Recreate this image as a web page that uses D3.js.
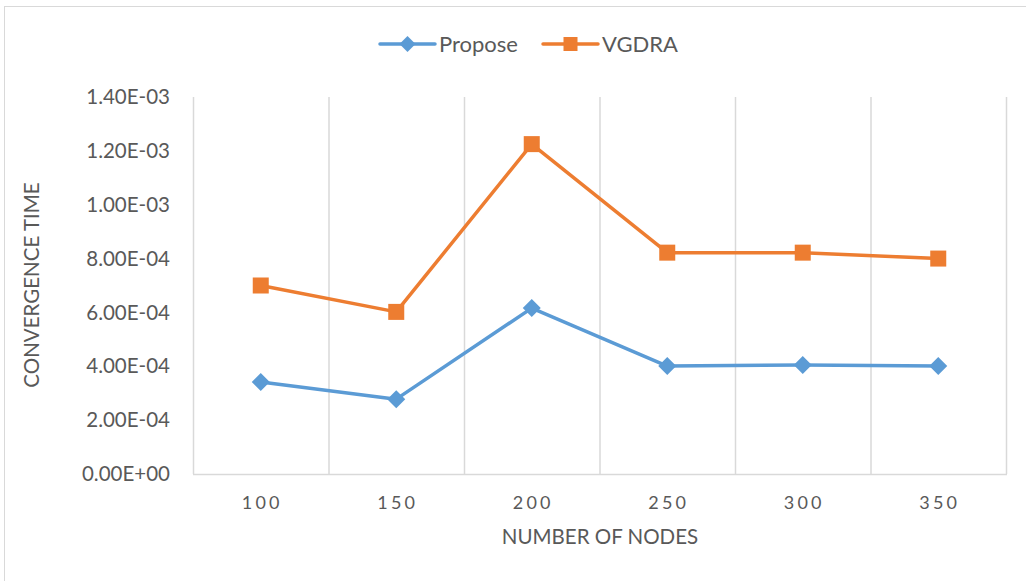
<!DOCTYPE html>
<html><head><meta charset="utf-8">
<script src="https://cdn.jsdelivr.net/npm/d3@7"></script>
<style>body{margin:0;background:#fff}svg{display:block}text{font-family:Lato,"Open Sans",sans-serif;fill:#595959}</style>
</head><body><svg id="c" width="1026" height="581"></svg>
<script>
const categories = ["100","150","200","250","300","350"];
const propose = [3.42e-4, 2.78e-4, 6.16e-4, 4.01e-4, 4.05e-4, 4.01e-4];
const vgdra = [7.0e-4, 6.02e-4, 1.225e-3, 8.22e-4, 8.22e-4, 8.0e-4];
const yTicks = [0, 2e-4, 4e-4, 6e-4, 8e-4, 1e-3, 1.2e-3, 1.4e-3];
const seriesNames = ["Propose","VGDRA"];
const colors = ["#5B9BD5","#ED7D31"];

const svg = d3.select("#c");
const L=193,R=1006,T=97,B=474;
svg.append("rect").attr("x",4.5).attr("y",6.5).attr("width",1030).attr("height",590).attr("fill","none").attr("stroke","#d9d9d9");
const x = d3.scaleBand().domain(categories).range([L,R]);
const y = d3.scaleLinear().domain([0,1.4e-3]).range([B,T]);
const bounds = categories.map(c=>x(c)).concat([R]);
svg.selectAll(".vg").data(bounds).enter().append("line")
 .attr("x1",d=>d+0.5).attr("x2",d=>d+0.5).attr("y1",T).attr("y2",B)
 .attr("stroke","#d9d9d9").attr("stroke-width",1.5);
svg.append("line").attr("x1",L).attr("x2",R+1).attr("y1",B+0.5).attr("y2",B+0.5).attr("stroke","#d9d9d9").attr("stroke-width",1.5);
const fmt = v => { if(v===0) return "0.00E+00"; const e=Math.floor(Math.log10(v)+1e-9); const m=v/Math.pow(10,e); return m.toFixed(2)+"E-"+String(-e).padStart(2,"0"); };
svg.selectAll(".yl").data(yTicks).enter().append("text")
 .attr("x",170).attr("y",d=>y(d)).attr("dy","0.35em").attr("text-anchor","end")
 .attr("font-size",20.5).text(fmt);
svg.selectAll(".xl").data(categories).enter().append("text")
 .attr("x",d=>x(d)+x.bandwidth()/2+1.5).attr("y",509).attr("text-anchor","middle")
 .attr("font-size",18).attr("letter-spacing","3.2px").text(d=>d);
svg.append("text").attr("x",600).attr("y",544).attr("text-anchor","middle").attr("font-size",20.5).text("NUMBER OF NODES");
svg.append("text").attr("transform","translate(39,285) rotate(-90)").attr("text-anchor","middle").attr("font-size",20.5).text("CONVERGENCE TIME");

const line = d3.line().x((d,i)=>x(categories[i])+x.bandwidth()/2).y(d=>y(d));
const data=[propose,vgdra];
data.forEach((s,k)=>{
  svg.append("path").attr("d",line(s)).attr("fill","none").attr("stroke",colors[k]).attr("stroke-width",3.5).attr("stroke-linejoin","round");
});
const diamond = (cx,cy,r)=>`M${cx},${cy-r}L${cx+r},${cy}L${cx},${cy+r}L${cx-r},${cy}Z`;
svg.selectAll(".pm").data(propose).enter().append("path")
 .attr("d",(d,i)=>diamond(x(categories[i])+x.bandwidth()/2,y(d),9)).attr("fill",colors[0]);
svg.selectAll(".vm").data(vgdra).enter().append("rect")
 .attr("x",(d,i)=>x(categories[i])+x.bandwidth()/2-8).attr("y",d=>y(d)-8).attr("width",16).attr("height",16).attr("fill",colors[1]);
const leg=[{x0:380,name:seriesNames[0],c:colors[0],m:"d"},{x0:543,name:seriesNames[1],c:colors[1],m:"s"}];
leg.forEach(l=>{
  const ly=44;
  svg.append("line").attr("x1",l.x0).attr("x2",l.x0+55).attr("y1",ly).attr("y2",ly).attr("stroke",l.c).attr("stroke-width",3.5).attr("stroke-linecap","round");
  const cx=l.x0+27.5;
  if(l.m==="d") svg.append("path").attr("d",diamond(cx,ly,8)).attr("fill",l.c);
  else svg.append("rect").attr("x",cx-7).attr("y",ly-7).attr("width",14).attr("height",14).attr("fill",l.c);
  svg.append("text").attr("x",l.x0+59).attr("y",ly).attr("dy","0.35em").attr("font-size",22).text(l.name);
});
</script></body></html>
